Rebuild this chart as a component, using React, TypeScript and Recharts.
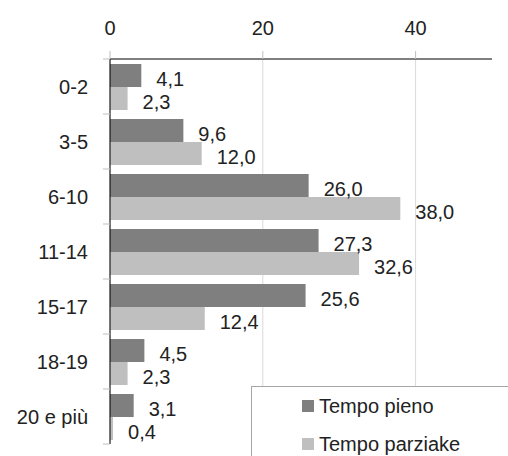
import { BarChart, Bar, XAxis, YAxis, CartesianGrid, Legend, LabelList } from "recharts";

const categories = ["0-2", "3-5", "6-10", "11-14", "15-17", "18-19", "20 e più"];
const tempoPieno = [4.1, 9.6, 26.0, 27.3, 25.6, 4.5, 3.1];
const tempoParziale = [2.3, 12.0, 38.0, 32.6, 12.4, 2.3, 0.4];
const seriesNames = ["Tempo pieno", "Tempo parziake"];
const xTicks = [0, 20, 40];

const data = categories.map((c, i) => ({
  name: c,
  pieno: tempoPieno[i],
  parziale: tempoParziale[i],
}));

const FONT = "'Liberation Sans', Arial, sans-serif";
const TXT = "#222";
const BAND = 55;
const TICK = 7;
const GAP = 15;

const fmt = (v: number) => v.toFixed(1).replace(".", ",");

function CategoryTick(props: any) {
  const { x, y, payload, index, visibleTicksCount } = props;
  const ax = x + GAP + TICK;
  return (
    <g>
      <line x1={ax - TICK} x2={ax} y1={y - BAND / 2} y2={y - BAND / 2} stroke="#bfbfbf" />
      {index === visibleTicksCount - 1 && (
        <line x1={ax - TICK} x2={ax} y1={y + BAND / 2} y2={y + BAND / 2} stroke="#bfbfbf" />
      )}
      <text x={x} y={y} dy="0.35em" textAnchor="end" fontSize={20} fontFamily={FONT} fill={TXT}>
        {payload.value}
      </text>
    </g>
  );
}

function ValueLabel(props: any) {
  const { x, y, width, height, value } = props;
  return (
    <text
      x={x + width + 15}
      y={y + height / 2 + 3}
      dy="0.35em"
      fontSize={20}
      fontFamily={FONT}
      fill={TXT}
    >
      {fmt(Number(value))}
    </text>
  );
}

function LegendBox(props: any) {
  const items = [...(props.payload ?? [])].sort(
    (a: any, b: any) => seriesNames.indexOf(a.value) - seriesNames.indexOf(b.value)
  );
  return (
    <div
      style={{
        width: 257,
        height: 70,
        boxSizing: "border-box",
        background: "#fff",
        borderLeft: "1px solid #a6a6a6",
        borderTop: "1px solid #a6a6a6",
        paddingLeft: 50,
        fontFamily: FONT,
        fontSize: 20,
        color: TXT,
      }}
    >
      {items.map((it: any) => (
        <div key={it.value} style={{ display: "flex", alignItems: "center", height: 38 }}>
          <span style={{ width: 12, height: 12, background: it.color, marginRight: 5 }} />
          <span>{it.value}</span>
        </div>
      ))}
    </div>
  );
}

export default function App() {
  return (
    <div>
      <style>{`body{margin:0}`}</style>
      <BarChart
        width={508}
        height={456}
        data={data}
        layout="vertical"
        margin={{ top: 0, right: 16, bottom: 12, left: 0 }}
        barCategoryGap={5}
        barGap={0}
      >
        <CartesianGrid horizontal={false} stroke="#d9d9d9" syncWithTicks />
        <XAxis
          type="number"
          orientation="top"
          domain={[0, 50]}
          ticks={xTicks}
          height={59}
          axisLine={{ stroke: "#000" }}
          tickLine={{ stroke: "#bfbfbf" }}
          tickSize={8}
          tickMargin={16}
          tick={{ fontSize: 20, fontFamily: FONT, fill: TXT }}
        />
        <YAxis
          type="category"
          dataKey="name"
          width={110}
          axisLine={{ stroke: "#000" }}
          tickLine={false}
          tickSize={TICK}
          tickMargin={GAP}
          tick={<CategoryTick />}
          interval={0}
        />
        <Legend
          layout="vertical"
          align="center"
          verticalAlign="middle"
          wrapperStyle={{ left: 251, top: 386, width: 257, height: 70 }}
          content={<LegendBox />}
        />
        <Bar dataKey="pieno" name={seriesNames[0]} fill="#7f7f7f" isAnimationActive={false}>
          <LabelList dataKey="pieno" content={<ValueLabel />} />
        </Bar>
        <Bar dataKey="parziale" name={seriesNames[1]} fill="#bfbfbf" isAnimationActive={false}>
          <LabelList dataKey="parziale" content={<ValueLabel />} />
        </Bar>
      </BarChart>
    </div>
  );
}
